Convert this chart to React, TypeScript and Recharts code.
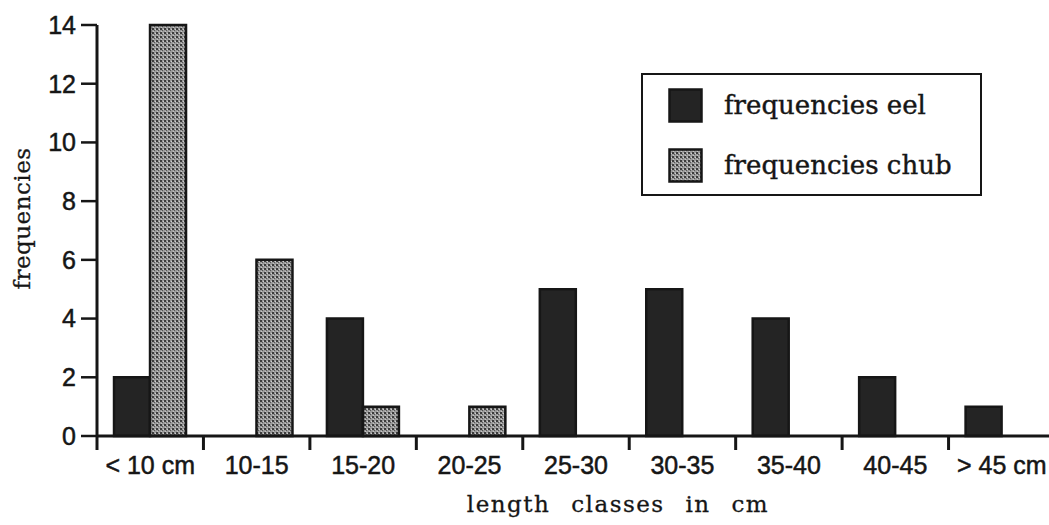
import React from 'react';
import { BarChart, Bar, XAxis, YAxis, Legend } from 'recharts';

const lengthClasses = ['< 10 cm', '10-15', '15-20', '20-25', '25-30', '30-35', '35-40', '40-45', '> 45 cm'];
const eelFrequencies = [2, 0, 4, 0, 5, 5, 4, 2, 1];
const chubFrequencies = [14, 6, 1, 1, 0, 0, 0, 0, 0];
const yTicks = [0, 2, 4, 6, 8, 10, 12, 14];
const legendOrder = ['eel', 'chub'];

const chartData = lengthClasses.map((name, i) => ({
  name,
  eel: eelFrequencies[i],
  chub: chubFrequencies[i],
}));

const INK = '#161616';
const sans = '"Liberation Sans", Arial, sans-serif';
const serif = '"DejaVu Serif", serif';

// category label at the centre, tick mark at the left edge of the class
const ClassTick = (props: any) => {
  const { x, y, payload, width, visibleTicksCount } = props;
  const band = width && visibleTicksCount ? width / visibleTicksCount : 2 * (payload.offset || 0);
  const edge = x - band / 2;
  return (
    <g>
      <line x1={edge} x2={edge} y1={y - 21} y2={y - 6} stroke={INK} strokeWidth={3} />
      <text
        x={x}
        y={y}
        dy="0.72em"
        textAnchor="middle"
        fill={INK}
        stroke={INK}
        strokeWidth={0.5}
        fontSize={25}
        fontFamily={sans}
      >
        {payload.value}
      </text>
    </g>
  );
};

const LegendBox = (props: any) => {
  const items = [...(props.payload || [])].sort(
    (a: any, b: any) => legendOrder.indexOf(a.dataKey) - legendOrder.indexOf(b.dataKey)
  );
  return (
    <div
      style={{
        border: `2.5px solid ${INK}`,
        width: 341,
        height: 123,
        boxSizing: 'border-box',
        padding: '6px 0 0 25px',
        background: '#fff',
      }}
    >
      {items.map((entry: any) => (
        <div key={entry.value} style={{ display: 'flex', alignItems: 'center', height: 48, marginBottom: 12 }}>
          <svg width={35} height={35} style={{ marginRight: 21 }}>
            <rect x={1.5} y={1.5} width={32} height={32} fill={entry.color} stroke={INK} strokeWidth={2.5} />
          </svg>
          <span style={{ fontFamily: serif, fontSize: 26, color: INK, WebkitTextStroke: '0.4px #161616' }}>
            {entry.value}
          </span>
        </div>
      ))}
    </div>
  );
};

export default function App() {
  return (
    <div style={{ position: 'absolute', left: 0, top: 0, width: 1049, height: 525, overflow: 'hidden', background: '#fff' }}>
      <BarChart
        width={1062}
        height={525}
        data={chartData}
        margin={{ top: 25, right: 7, bottom: 0, left: 0 }}
        barCategoryGap="16%"
        barGap={0}
      >
        <defs>
          <pattern id="stipple" width={4} height={4} patternUnits="userSpaceOnUse">
            <rect width={4} height={4} fill="#9a9a9a" />
            <rect x={0} y={0} width={2} height={2} fill="#3c3c3c" />
            <rect x={2} y={2} width={1} height={1} fill="#555" />
            <rect x={3} y={1} width={1} height={1} fill="#cfcfcf" />
            <rect x={1} y={3} width={1} height={1} fill="#c4c4c4" />
          </pattern>
        </defs>
        <XAxis
          dataKey="name"
          height={89}
          tickLine={false}
          axisLine={{ stroke: INK, strokeWidth: 3 }}
          tickSize={14}
          tickMargin={6}
          interval={0}
          tick={<ClassTick />}
          label={(p: any) => (
            <text
              x={618}
              y={p.viewBox.y + 76}
              textAnchor="middle"
              fill={INK}
              stroke={INK}
              strokeWidth={0.3}
              fontFamily={serif}
              fontSize={23}
              letterSpacing={1.5}
              wordSpacing={12}
            >
              length classes in cm
            </text>
          )}
        />
        <YAxis
          width={97}
          domain={[0, 14]}
          ticks={yTicks}
          interval={0}
          tickSize={16}
          tickMargin={5}
          axisLine={{ stroke: INK, strokeWidth: 3 }}
          tickLine={{ stroke: INK, strokeWidth: 2.5 }}
          tick={{ fill: INK, stroke: INK, strokeWidth: 0.5, fontSize: 25, fontFamily: sans }}
          label={(p: any) => {
            const cy = p.viewBox.y + p.viewBox.height / 2 - 12;
            return (
              <text
                x={22}
                y={cy}
                transform={`rotate(-90 22 ${cy})`}
                textAnchor="middle"
                dominantBaseline="central"
                fill={INK}
                stroke={INK}
                strokeWidth={0.3}
                fontFamily={serif}
                fontSize={23}
                letterSpacing={0.5}
              >
                frequencies
              </text>
            );
          }}
        />
        <Legend
          layout="vertical"
          align="center"
          verticalAlign="middle"
          wrapperStyle={{ left: 641, top: 73, width: 'auto' }}
          content={<LegendBox />}
        />
        <Bar dataKey="eel" name="frequencies eel" fill="#242424" stroke={INK} strokeWidth={2.5} isAnimationActive={false} />
        <Bar dataKey="chub" name="frequencies chub" fill="url(#stipple)" stroke={INK} strokeWidth={2.5} isAnimationActive={false} />
      </BarChart>
    </div>
  );
}
